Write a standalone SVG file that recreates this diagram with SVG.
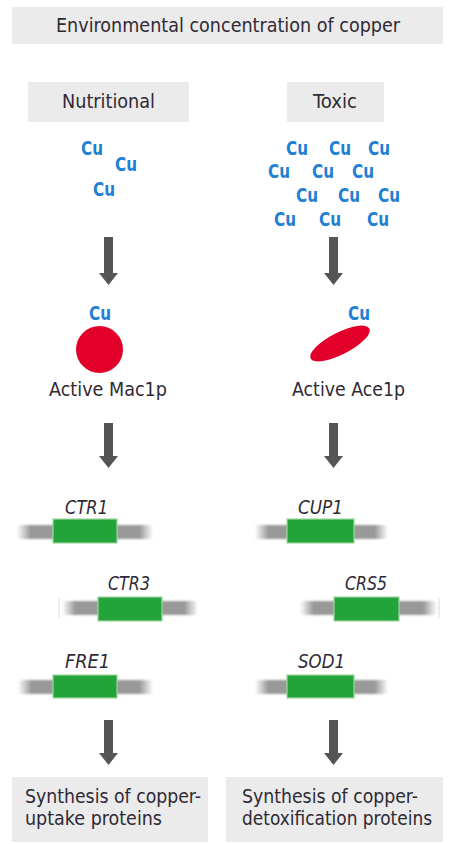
<svg xmlns="http://www.w3.org/2000/svg" width="450" height="844" viewBox="0 0 450 844">
<defs>
<style>
.box{fill:#ebebeb}
.t{font-family:"Liberation Sans Narrow","DejaVu Sans Condensed","Liberation Sans",sans-serif;fill:#2f2a35;font-size:20px}
.cu{font-family:"Liberation Sans Narrow","DejaVu Sans Condensed","Liberation Sans",sans-serif;fill:#1f80d4;font-size:19px;font-weight:600}
.g{font-style:italic}
.gene{fill:#22a43a;stroke:#9fd89f;stroke-width:1.2}
.bar{fill:url(#fade);filter:url(#soft)}
.arr{fill:#555}
.tick{stroke:#dcdcdc;stroke-width:1}
</style>
<linearGradient id="fade" x1="0" y1="0" x2="1" y2="0">
<stop offset="0" stop-color="#999" stop-opacity="0"/>
<stop offset="0.1" stop-color="#999" stop-opacity="1"/>
<stop offset="0.9" stop-color="#999" stop-opacity="1"/>
<stop offset="1" stop-color="#999" stop-opacity="0"/>
</linearGradient>
<filter id="soft" x="-5%" y="-30%" width="110%" height="160%">
<feGaussianBlur stdDeviation="0.8"/>
</filter>
</defs>
<rect width="450" height="844" fill="#fff"/>

<g id="title">
<rect class="box" x="12" y="7" width="431" height="37"/>
<text class="t" x="56" y="32" textLength="344" lengthAdjust="spacingAndGlyphs" font-size="21">Environmental concentration of copper</text>
</g>

<g id="nutritional">
<rect class="box" x="28" y="82" width="161" height="40"/>
<text class="t" x="62" y="108" textLength="93" lengthAdjust="spacingAndGlyphs">Nutritional</text>
</g>
<g id="toxic">
<rect class="box" x="287" y="82" width="97" height="40"/>
<text class="t" x="313" y="108" textLength="44" lengthAdjust="spacingAndGlyphs">Toxic</text>
</g>

<g id="cu-left">
<text class="cu" x="81" y="155" textLength="22" lengthAdjust="spacingAndGlyphs">Cu</text>
<text class="cu" x="115" y="171" textLength="22" lengthAdjust="spacingAndGlyphs">Cu</text>
<text class="cu" x="93" y="196" textLength="22" lengthAdjust="spacingAndGlyphs">Cu</text>
</g>
<g id="cu-right">
<text class="cu" x="286" y="155" textLength="22" lengthAdjust="spacingAndGlyphs">Cu</text>
<text class="cu" x="329" y="155" textLength="22" lengthAdjust="spacingAndGlyphs">Cu</text>
<text class="cu" x="368" y="155" textLength="22" lengthAdjust="spacingAndGlyphs">Cu</text>
<text class="cu" x="268" y="178" textLength="22" lengthAdjust="spacingAndGlyphs">Cu</text>
<text class="cu" x="312" y="178" textLength="22" lengthAdjust="spacingAndGlyphs">Cu</text>
<text class="cu" x="352" y="178" textLength="22" lengthAdjust="spacingAndGlyphs">Cu</text>
<text class="cu" x="296" y="202" textLength="22" lengthAdjust="spacingAndGlyphs">Cu</text>
<text class="cu" x="338" y="202" textLength="22" lengthAdjust="spacingAndGlyphs">Cu</text>
<text class="cu" x="378" y="202" textLength="22" lengthAdjust="spacingAndGlyphs">Cu</text>
<text class="cu" x="274" y="226" textLength="22" lengthAdjust="spacingAndGlyphs">Cu</text>
<text class="cu" x="319" y="226" textLength="22" lengthAdjust="spacingAndGlyphs">Cu</text>
<text class="cu" x="367" y="226" textLength="22" lengthAdjust="spacingAndGlyphs">Cu</text>
</g>

<g id="mac1p">
<text class="cu" x="89" y="320" textLength="22" lengthAdjust="spacingAndGlyphs">Cu</text>
<circle cx="99.5" cy="349.5" r="23.5" fill="#e2002b"/>
<text class="t" x="49" y="396" textLength="118" lengthAdjust="spacingAndGlyphs">Active Mac1p</text>
</g>
<g id="ace1p">
<text class="cu" x="348" y="320" textLength="22" lengthAdjust="spacingAndGlyphs">Cu</text>
<ellipse cx="340" cy="343.5" rx="33" ry="11" transform="rotate(-27 340 343.5)" fill="#e2002b"/>
<text class="t" x="292" y="396" textLength="113" lengthAdjust="spacingAndGlyphs">Active Ace1p</text>
</g>

<g id="ctr1">
<text class="t g" x="65" y="514" textLength="43" lengthAdjust="spacingAndGlyphs">CTR1</text>
<rect class="bar" x="17" y="525" width="136" height="14"/>
<rect class="gene" x="53" y="519" width="64" height="24"/>
</g>
<g id="cup1">
<text class="t g" x="298" y="514" textLength="45" lengthAdjust="spacingAndGlyphs">CUP1</text>
<rect class="bar" x="255" y="525" width="133" height="14"/>
<rect class="gene" x="287" y="519" width="67" height="24"/>
</g>
<g id="ctr3">
<text class="t g" x="108" y="590" textLength="42" lengthAdjust="spacingAndGlyphs">CTR3</text>
<line class="tick" x1="59" y1="598" x2="59" y2="618"/>
<rect class="bar" x="62" y="601" width="136" height="14"/>
<rect class="gene" x="98" y="597" width="64" height="24"/>
</g>
<g id="crs5">
<text class="t g" x="345" y="590" textLength="42" lengthAdjust="spacingAndGlyphs">CRS5</text>
<line class="tick" x1="439" y1="598" x2="439" y2="618"/>
<rect class="bar" x="300" y="601" width="137" height="14"/>
<rect class="gene" x="334" y="597" width="65" height="24"/>
</g>
<g id="fre1">
<text class="t g" x="65" y="668" textLength="45" lengthAdjust="spacingAndGlyphs">FRE1</text>
<rect class="bar" x="18" y="680" width="135" height="14"/>
<rect class="gene" x="53" y="675" width="64" height="23"/>
</g>
<g id="sod1">
<text class="t g" x="298" y="668" textLength="47" lengthAdjust="spacingAndGlyphs">SOD1</text>
<rect class="bar" x="255" y="680" width="133" height="14"/>
<rect class="gene" x="287" y="675" width="67" height="23"/>
</g>

<g id="uptake">
<rect class="box" x="12" y="777" width="196" height="65"/>
<text class="t" x="25" y="803" textLength="176" lengthAdjust="spacingAndGlyphs" font-size="19">Synthesis of copper-</text>
<text class="t" x="25" y="825" textLength="137" lengthAdjust="spacingAndGlyphs" font-size="19">uptake proteins</text>
</g>
<g id="detox">
<rect class="box" x="226" y="777" width="217" height="65"/>
<text class="t" x="242" y="803" textLength="176" lengthAdjust="spacingAndGlyphs" font-size="19">Synthesis of copper-</text>
<text class="t" x="242" y="825" textLength="190" lengthAdjust="spacingAndGlyphs" font-size="19">detoxification proteins</text>
</g>

<g id="connectors">
<path class="arr" d="M104,237 H113 V273 H118 L108.5,285 L99,273 H104 Z"/>
<path class="arr" d="M329,237 H338 V273 H343 L333.5,285 L324,273 H329 Z"/>
<path class="arr" d="M104,423 H113 V456 H118 L108.5,468 L99,456 H104 Z"/>
<path class="arr" d="M329,423 H338 V456 H343 L333.5,468 L324,456 H329 Z"/>
<path class="arr" d="M104,720 H113 V753 H118 L108.5,765 L99,753 H104 Z"/>
<path class="arr" d="M329,720 H338 V753 H343 L333.5,765 L324,753 H329 Z"/>
</g>
</svg>
